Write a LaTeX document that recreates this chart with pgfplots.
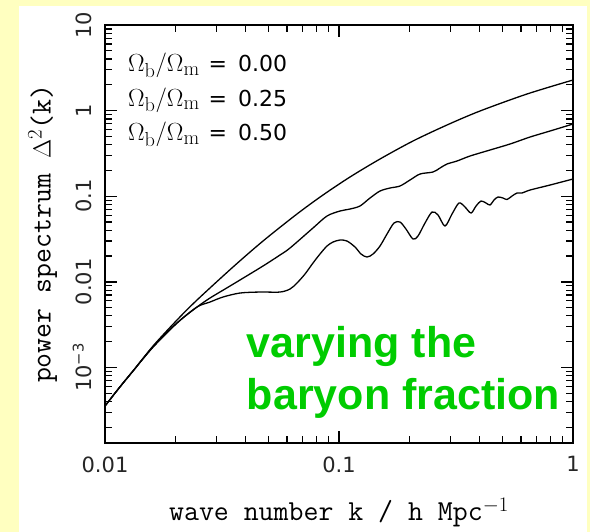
\documentclass[border=0pt]{standalone}
\usepackage{pgfplots}
\pgfplotsset{compat=1.18}
\usepackage{fontspec}
\newfontfamily\dejavu{DejaVu Sans}
\newfontfamily\arial{Liberation Sans}
\definecolor{bgyellow}{RGB}{255,255,192}
\definecolor{txtgreen}{RGB}{0,204,0}

\pgfplotstableread{
k P
0.01000 3.541e-4
0.01148 5.745e-4
0.01317 9.075e-4
0.01604 1.778e-3
0.02031 3.579e-3
0.02473 6.131e-3
0.03524 0.01489
0.04734 0.02996
0.06614 0.06197
0.08543 0.1033
0.1114 0.1676
0.1497 0.2720
0.2071 0.4414
0.2894 0.6789
0.4005 0.9893
0.6361 1.563
1.000 2.278
}\tabzero

\pgfplotstableread{
k P
0.01000 3.541e-4
0.01148 5.745e-4
0.01317 9.075e-4
0.01604 1.731e-3
0.02031 3.302e-3
0.02473 5.077e-3
0.02810 6.467e-3
0.03257 8.240e-3
0.03775 0.01050
0.04734 0.01530
0.05596 0.02057
0.06176 0.02483
0.07743 0.04252
0.08886 0.05871
0.1010 0.06717
0.1114 0.07088
0.1229 0.07684
0.1357 0.09528
0.1497 0.1150
0.1652 0.1247
0.1823 0.1316
0.2011 0.1546
0.2220 0.1817
0.2522 0.1918
0.2703 0.2136
0.2894 0.2378
0.3193 0.2577
0.3630 0.2948
0.4419 0.3465
0.5381 0.4072
0.6551 0.4913
0.7978 0.5776
1.000 0.6975
}\tabquarter

\pgfplotstableread{
k P
0.01000 3.541e-4
0.01148 5.745e-4
0.01317 9.075e-4
0.01604 1.731e-3
0.02031 3.302e-3
0.02473 5.077e-3
0.02810 5.808e-3
0.03193 6.644e-3
0.03775 7.399e-3
0.04596 7.600e-3
0.05596 7.600e-3
0.06176 8.240e-3
0.06614 9.683e-3
0.07156 0.01233
0.07743 0.01658
0.08294 0.02113
0.08886 0.02619
0.09427 0.02917
0.1010 0.03078
0.1082 0.02996
0.1171 0.02549
0.1242 0.02113
0.1317 0.01949
0.1398 0.02113
0.1497 0.02619
0.1604 0.03617
0.1718 0.04862
0.1823 0.04995
0.1933 0.04139
0.2071 0.03162
0.2176 0.03428
0.2331 0.04862
0.2498 0.06537
0.2650 0.06033
0.2838 0.04486
0.3041 0.06197
0.3257 0.08329
0.3455 0.07479
0.3666 0.06364
0.3852 0.07684
0.4045 0.08788
0.4249 0.08329
0.4419 0.07893
0.4596 0.09028
0.4780 0.09788
0.5022 0.09528
0.5223 0.09150
0.5488 0.1005
0.5766 0.1090
0.6055 0.1090
0.6551 0.1181
0.7978 0.1351
1.000 0.1589
}\tabhalf

\begin{document}
\begin{tikzpicture}
\fill[bgyellow] (-105bp,-89bp) rectangle (485bp,443bp);
\fill[white] (-86bp,-89bp) rectangle (482bp,437bp);
\begin{axis}[
  at={(0,0)}, anchor=south west,
  scale only axis, width=468bp, height=418bp,
  xmode=log, ymode=log,
  xmin=0.01, xmax=1, ymin=1.31e-4, ymax=10,
  xtick={0.01,0.1,1}, xticklabels={0.01,0.1,1},
  ytick={0.001,0.01,0.1,1,10},
  yticklabels={{10\textsuperscript{−3}},0.01,0.1,1,10},
  minor xtick={0.02,0.03,0.04,0.05,0.06,0.07,0.08,0.09,0.2,0.3,0.4,0.5,0.6,0.7,0.8,0.9},
  minor ytick={2e-4,3e-4,4e-4,5e-4,6e-4,7e-4,8e-4,9e-4,0.002,0.003,0.004,0.005,0.006,0.007,0.008,0.009,0.02,0.03,0.04,0.05,0.06,0.07,0.08,0.09,0.2,0.3,0.4,0.5,0.6,0.7,0.8,0.9,2,3,4,5,6,7,8,9},
  axis on top,
  tickwidth=12bp, subtickwidth=7bp,
  major tick style={draw=black, line width=1.4bp},
  minor tick style={draw=black, line width=1.2bp},
  axis line style={line width=1.3bp},
  xticklabel style={font=\dejavu\fontsize{21bp}{21bp}\selectfont, text=black!85, yshift=-10bp},
  yticklabel style={font=\dejavu\fontsize{21bp}{21bp}\selectfont, text=black!85, xshift=-10bp, rotate=90, anchor=south},
  xlabel={wave number k / h Mpc$^{-1}$},
  ylabel={power spectrum $\Delta^2$(k)},
  xlabel style={font=\ttfamily\fontsize{29bp}{29bp}\selectfont, at={(axis description cs:0.5,-0.1842)}, anchor=base},
  ylabel style={font=\ttfamily\fontsize{29bp}{29bp}\selectfont, at={(axis description cs:-0.116,0.5)}, anchor=base},
]
\addplot[black, line width=1.3bp, smooth, tension=0.5] table[x=k, y=P] {\tabzero};
\addplot[black, line width=1.3bp, smooth, tension=0.5] table[x=k, y=P] {\tabquarter};
\addplot[black, line width=1.3bp, smooth, tension=0.5] table[x=k, y=P] {\tabhalf};

\node[anchor=base west, inner sep=0pt] at (axis description cs:0.0491,0.8876) {\fontsize{29bp}{29bp}\selectfont$\Omega_{\mathrm{b}}/\Omega_{\mathrm{m}}$\hspace{9bp}{\dejavu\fontsize{22bp}{22bp}\selectfont =\hspace{11bp}0.00}};
\node[anchor=base west, inner sep=0pt] at (axis description cs:0.0491,0.8062) {\fontsize{29bp}{29bp}\selectfont$\Omega_{\mathrm{b}}/\Omega_{\mathrm{m}}$\hspace{9bp}{\dejavu\fontsize{22bp}{22bp}\selectfont =\hspace{11bp}0.25}};
\node[anchor=base west, inner sep=0pt] at (axis description cs:0.0491,0.7225) {\fontsize{29bp}{29bp}\selectfont$\Omega_{\mathrm{b}}/\Omega_{\mathrm{m}}$\hspace{9bp}{\dejavu\fontsize{22bp}{22bp}\selectfont =\hspace{11bp}0.50}};

\node[anchor=base west, inner sep=0pt, text=txtgreen, font=\arial\bfseries\fontsize{43bp}{43bp}\selectfont] at (axis description cs:0.303,0.2057) {varying the};
\node[anchor=base west, inner sep=0pt, text=txtgreen, font=\arial\bfseries\fontsize{43bp}{43bp}\selectfont] at (axis description cs:0.303,0.0813) {baryon fraction};
\end{axis}
\end{tikzpicture}
\end{document}
